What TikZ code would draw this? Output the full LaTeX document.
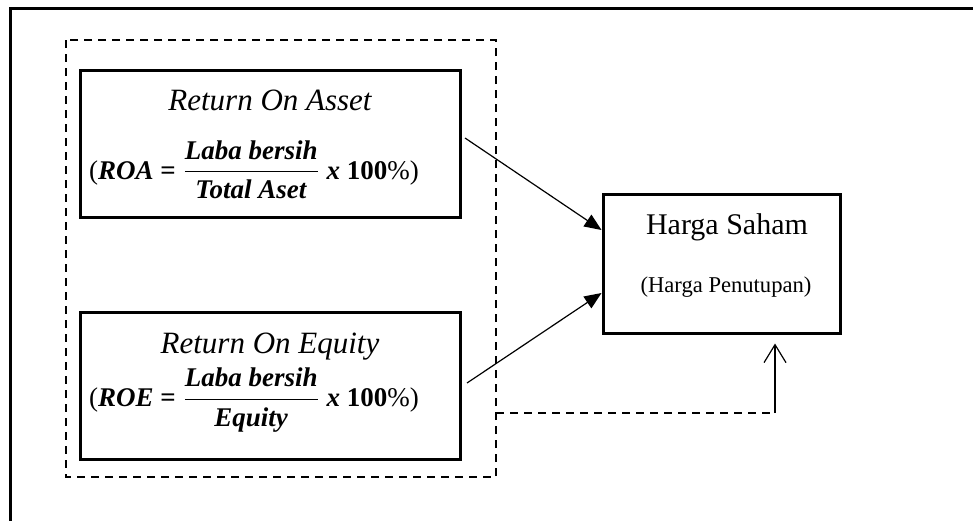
\documentclass[tikz,border=0pt]{standalone}
\usepackage{fontspec}
\setmainfont{Liberation Serif}
\usetikzlibrary{arrows.meta}
\tikzset{
  box/.style={
    draw=black,
    line width=1.5pt,
    minimum width=190pt,
    minimum height=73.5pt,
    inner sep=0pt,
  },
  grouping/.style={
    line width=0.8pt,
    dash pattern=on 4pt off 3pt,
  },
  link/.style={
    line width=0.6pt,
    -{Triangle[length=8.5pt,width=7pt]},
  },
}
\newcommand{\bi}[1]{\textbf{\textit{#1}}}

\begin{document}
\begin{tikzpicture}[x=0.5pt,y=-0.5pt]
      \useasboundingbox (0,0) rectangle (973,520);

      % Frame
      \draw[line width=1.5pt] (10,530) -- (10,8) -- (985,8);

      % Grouping of the two ratios
      \coordinate (gtl) at (66,40);
      \coordinate (gbr) at (496,477);
      \draw[grouping] (gtl) rectangle (gbr);

      % Boxes
      \node[box] (roa) at (270,143.5) {};
      \node[box] (roe) at (270,385.5) {};
      \node[box, minimum width=118.5pt, minimum height=69.5pt] (harga) at (721.5,263.5) {};

      % Labels
      \node[font=\fontsize{15.5}{18}\selectfont\itshape] (roat) at (270,100) {Return On Asset};
      \node[font=\fontsize{13.5}{16}\selectfont] (roaf) at (254,170)
        {(\bi{ROA} \textbf{=} $\displaystyle\frac{\mbox{\bi{Laba bersih}}}{\mbox{\bi{Total Aset}}}$ \bi{x} \textbf{100}\%)};
      \node[font=\fontsize{15.5}{18}\selectfont\itshape] (roet) at (270,347) {Return On Equity};
      \node[font=\fontsize{13.5}{16}\selectfont] (roef) at (254,400)
        {(\bi{ROE} \textbf{=} $\displaystyle\frac{\mbox{\bi{Laba bersih}}}{\mbox{\bi{Equity}}}$ \bi{x} \textbf{100}\%)};
      \node[font=\fontsize{15}{18}\selectfont] (hargat) at (727,227) {Harga Saham};
      \node[font=\fontsize{11.3}{13}\selectfont] (hargaf) at (726,287) {(Harga Penutupan)};

      % Arrows
      \coordinate (a1) at (465,138);
      \coordinate (a2) at (467,383);
      \draw[link] (a1) -- ([yshift=16.75pt]harga.west);
      \draw[link] (a2) -- ([yshift=-14.75pt]harga.west);

      % Simultaneous effect
      \coordinate (s1) at (496,413);
      \coordinate (s2) at (775,413);
      \draw[grouping] (s1) -- (s2);
      \draw[line width=0.6pt, -{Straight Barb[length=9pt,width=11pt]}] (s2) -- ([xshift=26.75pt,yshift=-4.5pt]harga.south);
\end{tikzpicture}
\end{document}
